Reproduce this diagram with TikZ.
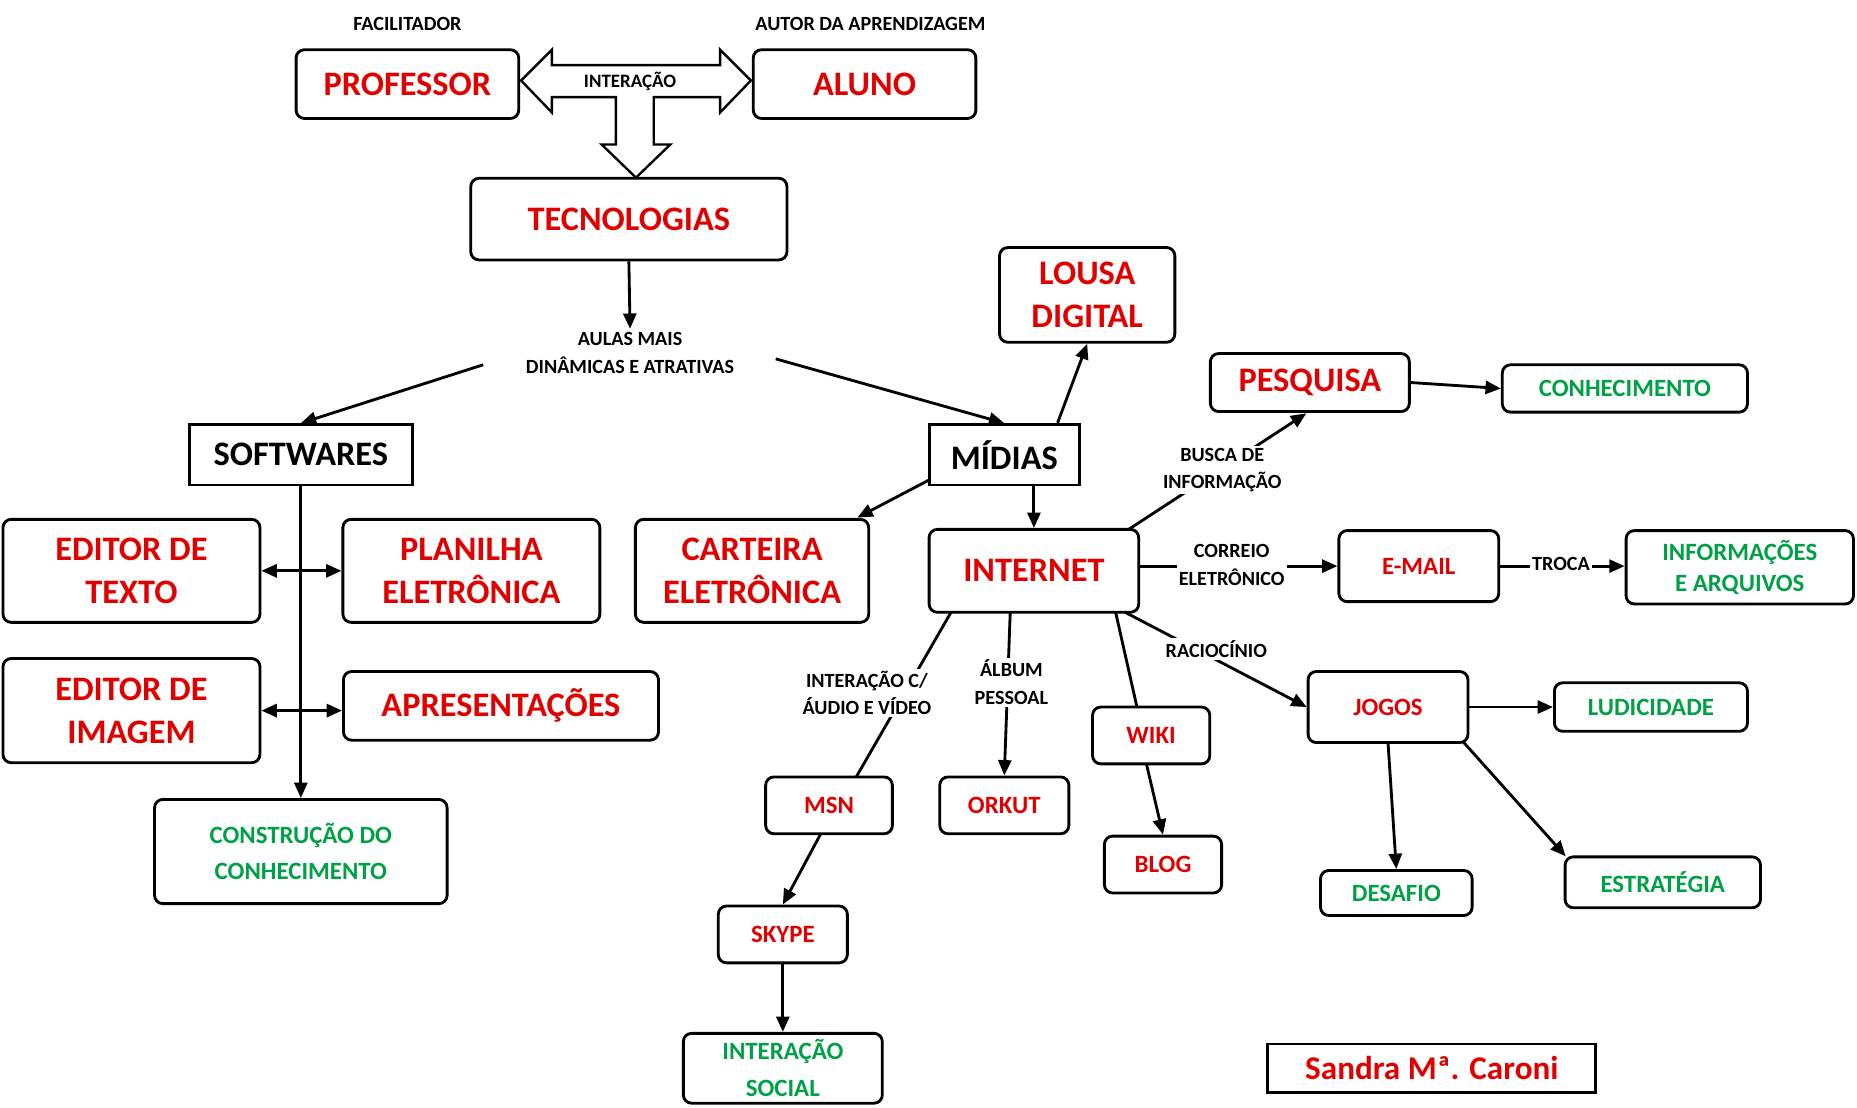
\documentclass[tikz,border=0pt]{standalone}
\usepackage{fontspec}
\setmainfont{Carlito}
\usetikzlibrary{arrows.meta}
\definecolor{myred}{RGB}{224,0,0}
\definecolor{mygreen}{RGB}{0,160,70}
\begin{document}
\begin{tikzpicture}[x=1pt,y=-1pt,line width=2.4pt,
  box/.style={draw,rounded corners=7pt,align=center,inner sep=0pt,font=\bfseries},
  big/.style={box,text=myred,font=\fontsize{29}{36}\selectfont\bfseries},
  mid/.style={box,text=myred,font=\fontsize{21}{24}\selectfont\bfseries},
  grn/.style={box,text=mygreen,font=\fontsize{21}{31}\selectfont\bfseries},
  lab/.style={font=\fontsize{17}{23}\selectfont\bfseries,align=center,fill=white,inner sep=2pt},
  arr/.style={-{Stealth[length=13pt,width=11pt,inset=0pt]}},
  darr/.style={{Stealth[length=13pt,width=11pt,inset=0pt]}-{Stealth[length=13pt,width=11pt,inset=0pt]}}]
\useasboundingbox (0,0) rectangle (1568,935);
\node[big,minimum width=188,minimum height=58] (prof) at (344,71) {PROFESSOR};
\node[big,minimum width=188,minimum height=58] (aluno) at (730,71) {ALUNO};
\node[lab] (fac) at (344,20) {FACILITADOR};
\node[lab] (aut) at (735,20) {AUTOR DA APRENDIZAGEM};
\draw[line width=2pt] (440,68) -- (466,42) -- (466,55) -- (608,55) -- (608,42) -- (634,68) -- (608,95) -- (608,82) -- (552,82) -- (552,122) -- (566,122) -- (537,150) -- (508,122) -- (520,122) -- (520,82) -- (466,82) -- (466,95) -- cycle;
\node[font=\fontsize{16}{18}\selectfont\bfseries] (inter) at (532,69) {INTERAÇÃO};
\node[big,minimum width=267,minimum height=69] (tec) at (531,185) {TECNOLOGIAS};
\node[lab] (aulas) at (532,298) {AULAS MAIS\\DINÂMICAS E ATRATIVAS};
\draw[arr] (tec.south) -- (aulas.north);
\node[draw,sharp corners,minimum width=188,minimum height=51,font=\fontsize{29}{32}\selectfont\bfseries,inner sep=0pt] (soft) at (254,384) {SOFTWARES};
\node[draw,sharp corners,minimum width=127,minimum height=51,font=\fontsize{29}{32}\selectfont\bfseries,inner sep=0pt] (mid) at (848,384) {MÍDIAS};
\coordinate (a1) at (408,308);
\coordinate (a2) at (655,303);
\draw[arr] (a1) -- (soft.north);
\draw[arr] (a2) -- (mid.north);
\node[big,minimum width=217,minimum height=87] (edt) at (111,482) {EDITOR DE\\TEXTO};
\node[big,minimum width=217,minimum height=87] (plan) at (398,482) {PLANILHA\\ELETRÔNICA};
\node[big,minimum width=217,minimum height=88] (edi) at (111,600) {EDITOR DE\\IMAGEM};
\node[big,minimum width=266,minimum height=58] (apr) at (423,596) {APRESENTAÇÕES};
\node[grn,minimum width=247,minimum height=88] (cons) at (254,719) {CONSTRUÇÃO DO\\CONHECIMENTO};
\draw[arr] (soft.south) -- (cons.north);
\coordinate (s1) at (255,482);
\coordinate (s2) at (255,600);
\draw[arr] (s1) -- (edt.east);
\draw[arr] (s1) -- (plan.west);
\draw[arr] (s2) -- (edi.east);
\draw[arr] (s2) -- (apr.west |- s2);
\node[big,minimum width=148,minimum height=80] (lousa) at (918,249) {LOUSA\\DIGITAL};
\draw[arr] (893,357) -- (lousa.south);
\node[big,minimum width=197,minimum height=87] (cart) at (635,482) {CARTEIRA\\ELETRÔNICA};
\draw[arr] (785,405) -- (724,437);
\node[big,minimum width=177,minimum height=70] (net) at (873,482) {INTERNET};
\draw[arr] (mid.south -| net.north) -- (net.north);
\node[big,minimum width=168,minimum height=49] (pesq) at (1106,323) {PESQUISA};
\node[grn,minimum width=207,minimum height=40] (conh) at (1372,328) {CONHECIMENTO};
\draw[arr] (953,447) -- (1103,349);
\node[lab] (busca) at (1032,397) {BUSCA DE\\INFORMAÇÃO};
\draw[arr] (pesq.east) -- (conh.west);
\node[mid,minimum width=135,minimum height=60] (email) at (1198,478) {E-MAIL};
\node[grn,minimum width=192,minimum height=62,font=\fontsize{21}{26}\selectfont\bfseries] (info) at (1469,479) {INFORMAÇÕES\\E ARQUIVOS};
\draw[arr] (net.east |- email) -- (email.west);
\node[lab] (corr) at (1040,477) {CORREIO\\ELETRÔNICO};
\draw[arr] (email.east) -- (info.west |- email);
\node[lab] (troca) at (1318,476) {TROCA};
\node[mid,minimum width=135,minimum height=60] (jogos) at (1172,597) {JOGOS};
\draw[arr] (950,517) -- (jogos.west);
\node[lab] (rac) at (1027,548) {RACIOCÍNIO};
\node[grn,minimum width=163,minimum height=41] (lud) at (1394,597) {LUDICIDADE};
\draw[arr] (jogos.east) -- (lud.west);
\node[grn,minimum width=128,minimum height=38] (des) at (1179,754) {DESAFIO};
\node[grn,minimum width=165,minimum height=43] (est) at (1404,745) {ESTRATÉGIA};
\draw[arr] (1172,627) -- (des.north);
\draw[arr] (1236,627) -- (1322,723);
\node[mid,minimum width=107,minimum height=48] (msn) at (700,680) {MSN};
\draw (803,517) -- (723,656);
\node[lab] (iav) at (732,585) {INTERAÇÃO C/\\ÁUDIO E VÍDEO};
\node[mid,minimum width=109,minimum height=48] (orkut) at (848,680) {ORKUT};
\draw[arr] (853,517) -- (orkut.north);
\node[lab] (alb) at (854,576) {ÁLBUM\\PESSOAL};
\node[mid,minimum width=99,minimum height=48] (wiki) at (972,621) {WIKI};
\draw (942,517) -- (960,597);
\node[mid,minimum width=99,minimum height=48] (blog) at (982,730) {BLOG};
\draw[arr] (968,645) -- (blog.north);
\node[mid,minimum width=109,minimum height=48] (skype) at (661,789) {SKYPE};
\draw[arr] (693,704) -- (skype.north);
\node[grn,minimum width=168,minimum height=59] (isoc) at (661,902) {INTERAÇÃO\\SOCIAL};
\draw[arr] (skype.south) -- (isoc.north);
\node[draw,sharp corners,minimum width=277,minimum height=41,text=myred,font=\fontsize{28}{32}\selectfont\bfseries,inner sep=0pt] (sand) at (1209,902) {Sandra Mª. Caroni};
\end{tikzpicture}
\end{document}
